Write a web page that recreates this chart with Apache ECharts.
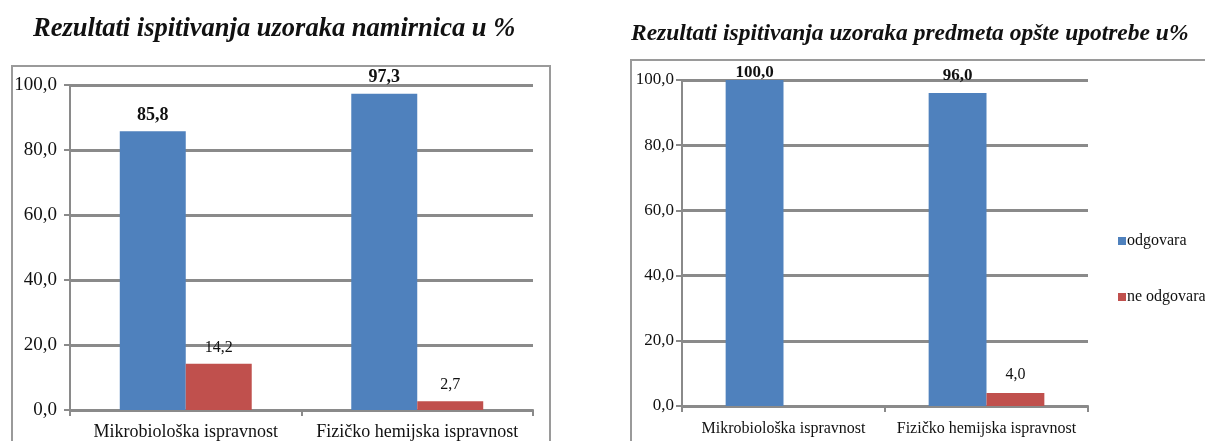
<!DOCTYPE html>
<html>
<head>
<meta charset="utf-8">
<script src="https://cdn.jsdelivr.net/npm/echarts@6/dist/echarts.min.js"></script>
<style>
  html, body { margin: 0; padding: 0; background: #fff; }
  #chart { width: 1205px; height: 441px; }
</style>
</head>
<body>
<div id="chart"></div>
<script>
  // podaci
  const categories = ['Mikrobiološka ispravnost', 'Fizičko hemijska ispravnost'];
  const seriesNames = ['odgovara', 'ne odgovara'];
  const namirniceOdgovara = [85.8, 97.3];
  const namirniceNeOdgovara = [14.2, 2.7];
  const predmetiOdgovara = [100.0, 96.0];
  const predmetiNeOdgovara = [null, 4.0];
  const yTicks = ['0,0', '20,0', '40,0', '60,0', '80,0', '100,0'];
  const titles = ['Rezultati ispitivanja uzoraka namirnica u %', 'Rezultati ispitivanja uzoraka predmeta opšte upotrebe u%'];

  const blue = '#4F81BD';
  const red = '#C0504D';
  const gridColor = '#8a8a8a';
  const font = '"Liberation Serif", "DejaVu Serif", serif';

  function fmt(v) {
    return v.toFixed(1).replace('.', ',');
  }

  function bars(values) {
    return values.map(function (v) {
      if (v == null) return null;
      // label za 100 stoji uz sam vrh
      if (v >= 100) return { value: v, label: { distance: -1 } };
      return v;
    });
  }

  function xAxis(gi, size, margin) {
    return {
      type: 'category',
      gridIndex: gi,
      data: categories,
      axisLine: { lineStyle: { color: gridColor, width: 2 } },
      axisTick: { show: true, length: 6, lineStyle: { color: gridColor, width: 2 } },
      axisLabel: { color: '#111', fontFamily: font, fontSize: size, margin: margin, interval: 0 }
    };
  }

  function yAxis(gi, size, margin) {
    return {
      type: 'value',
      gridIndex: gi,
      min: 0,
      max: 100,
      interval: 20,
      axisLine: { show: true, lineStyle: { color: gridColor, width: 2 } },
      axisTick: { show: true, length: 6, lineStyle: { color: gridColor, width: 2 } },
      axisLabel: {
        color: '#111', fontFamily: font, fontSize: size, margin: margin,
        formatter: function (v) { return yTicks[v / 20]; }
      },
      splitLine: { lineStyle: { color: gridColor, width: 3 } }
    };
  }

  function barSeries(name, values, gi, color, bold, size, dist) {
    return {
      name: name,
      type: 'bar',
      xAxisIndex: gi,
      yAxisIndex: gi,
      data: bars(values),
      itemStyle: { color: color },
      barGap: '0%',
      barCategoryGap: '43%',
      label: {
        show: true,
        position: 'top',
        distance: dist,
        color: '#111',
        fontFamily: font,
        fontSize: size,
        fontWeight: bold ? 'bold' : 'normal',
        formatter: function (p) { return fmt(p.value); }
      }
    };
  }

  const chart = echarts.init(document.getElementById('chart'));
  chart.setOption({
    animation: false,
    title: [
      {
        text: titles[0], left: 28, top: 11,
        textStyle: { fontFamily: font, fontStyle: 'italic', fontWeight: 'bold', fontSize: 26.5, color: '#111' }
      },
      {
        text: titles[1], left: 626, top: 17,
        textStyle: { fontFamily: font, fontStyle: 'italic', fontWeight: 'bold', fontSize: 23.5, color: '#111' }
      }
    ],
    legend: {
      orient: 'vertical',
      left: 1113,
      top: 228,
      itemGap: 40,
      itemWidth: 8,
      itemHeight: 8,
      icon: 'rect',
      data: seriesNames,
      textStyle: { fontFamily: font, fontSize: 16, color: '#111', padding: [0, 0, 0, -4] }
    },
    graphic: [
      { type: 'rect', shape: { x: 12, y: 66, width: 538, height: 400 }, style: { fill: null, stroke: '#9a9a9a', lineWidth: 2 }, silent: true },
      { type: 'rect', shape: { x: 631, y: 60, width: 600, height: 400 }, style: { fill: null, stroke: '#9a9a9a', lineWidth: 2 }, silent: true }
    ],
    grid: [
      { left: 70, right: 672, top: 85, bottom: 31 },
      { left: 682, right: 117, top: 80, bottom: 35 }
    ],
    xAxis: [xAxis(0, 18, 13), xAxis(1, 16, 15)],
    yAxis: [yAxis(0, 19, 13), yAxis(1, 17, 8)],
    series: [
      barSeries(seriesNames[0], namirniceOdgovara, 0, blue, true, 18, 7),
      barSeries(seriesNames[1], namirniceNeOdgovara, 0, red, false, 16, 8),
      barSeries(seriesNames[0], predmetiOdgovara, 1, blue, true, 17, 9),
      barSeries(seriesNames[1], predmetiNeOdgovara, 1, red, false, 16, 10)
    ]
  });
</script>
</body>
</html>
